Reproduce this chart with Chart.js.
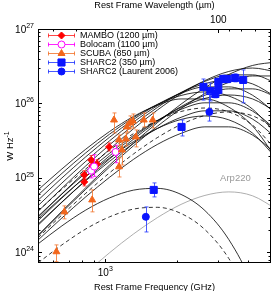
<!DOCTYPE html>
<html lang="en">
<head>
    <meta charset="UTF-8">
    <title>SED fits</title>
    <script src="https://cdn.jsdelivr.net/npm/chart.js"></script>
    <style>
        body { margin: 0; background-color: #fff; }
        canvas { display: block; }
    </style>
</head>
<body>
    <canvas id="sedChart" width="277" height="291"></canvas>
    <script>
        // rest frame frequency grid (GHz) on which the model curves were read
        const freqGrid = [520, 656, 827, 1042, 1313, 1656, 2087, 2632, 3317, 4181, 5272];

        // model SEDs, W/Hz (solid)
        const sed01 = [1.70e24, 3.57e24, 7.38e24, 1.49e25, 2.92e25, 5.50e25, 9.79e25, 1.63e26, 2.45e26, 3.24e26, 3.61e26];
        const sed02 = [2.96e24, 6.12e24, 1.24e25, 2.42e25, 4.56e25, 8.13e25, 1.35e26, 2.03e26, 2.69e26, 2.99e26, 2.65e26];
        const sed03 = [1.65e24, 3.44e24, 7.03e24, 1.40e25, 2.69e25, 4.93e25, 8.53e25, 1.36e26, 1.92e26, 2.34e26, 2.34e26];
        const sed04 = [3.56e24, 7.26e24, 1.45e25, 2.78e25, 5.09e25, 8.81e25, 1.40e26, 1.98e26, 2.42e26, 2.42e26, 1.87e26];
        const sed05 = [4.23e24, 8.53e24, 1.67e25, 3.15e25, 5.61e25, 9.31e25, 1.40e26, 1.85e26, 2.07e26, 1.83e26, 1.21e26];
        const sed06 = [5.01e24, 9.98e24, 1.92e25, 3.52e25, 6.08e25, 9.66e25, 1.37e26, 1.67e26, 1.67e26, 1.29e26, 7.19e25];
        const sed07 = [5.89e24, 1.15e25, 2.17e25, 3.87e25, 6.43e25, 9.68e25, 1.28e26, 1.43e26, 1.26e26, 8.38e25, 3.84e25];
        const sed08 = [6.89e24, 1.32e25, 2.43e25, 4.20e25, 6.67e25, 9.44e25, 1.15e26, 1.15e26, 8.93e25, 4.97e25, 1.82e25];
        const sed09 = [2.31e24, 4.71e24, 9.38e24, 1.80e25, 3.30e25, 5.71e25, 9.08e25, 1.29e26, 1.57e26, 1.57e26, 1.22e26];
        const sed10 = [2.66e24, 5.37e24, 1.05e25, 1.98e25, 3.53e25, 5.86e25, 8.83e25, 1.17e26, 1.30e26, 1.15e26, 7.64e25];
        const sed11 = [3.05e24, 6.08e24, 1.17e25, 2.14e25, 3.71e25, 5.89e25, 8.34e25, 1.02e26, 1.02e26, 7.89e25, 4.39e25];
        const sed12 = [2.39e24, 4.75e24, 9.14e24, 1.67e25, 2.90e25, 4.60e25, 6.52e25, 7.96e25, 7.96e25, 6.17e25, 3.43e25];
        const sed13 = [2.81e24, 5.50e24, 1.04e25, 1.85e25, 3.06e25, 4.61e25, 6.10e25, 6.79e25, 6.03e25, 3.99e25, 1.83e25];
        const sed14 = [1.46e24, 2.90e24, 5.57e24, 1.02e25, 1.77e25, 2.81e25, 3.97e25, 4.85e25, 4.85e25, 3.76e25, 2.09e25];
        const sedLow = [1.30e24, 2.27e24, 3.70e24, 5.39e24, 6.85e24, 7.24e24, 6.00e24, 3.64e24, 1.49e24, 3.70e23, 4.93e22];

        // model SEDs (dashed)
        const sedDash1 = [1.57e24, 3.18e24, 6.22e24, 1.17e25, 2.09e25, 3.47e25, 5.22e25, 6.90e25, 7.69e25, 6.82e25, 4.52e25];
        const sedDash2 = [3.59e24, 7.03e24, 1.32e25, 2.36e25, 3.92e25, 5.90e25, 7.80e25, 8.69e25, 7.71e25, 5.11e25, 2.34e25];
        const sedLowDash = [7.21e23, 1.26e24, 2.06e24, 3.00e24, 3.81e24, 4.03e24, 3.33e24, 2.02e24, 8.30e23, 2.06e23, 2.74e22];

        // Arp220 template (grey)
        const arp220 = [1.33e23, 2.68e23, 5.25e23, 9.89e23, 1.76e24, 2.92e24, 4.41e24, 5.82e24, 6.49e24, 5.75e24, 3.81e24];
        const arp220LabelAt = [3050, 1.0e25];

        // photometry: frequency (GHz), luminosity and error bar ends (W/Hz)
        const mamboFreq = [815, 815, 872, 880, 923, 1037];
        const mamboLum = [1.10e25, 8.84e24, 1.74e25, 1.45e25, 1.54e25, 2.61e25];
        const mamboLo = [9.7e24, 7.8e24, 1.5e25, 1.28e25, 1.36e25, 2.3e25];
        const mamboHi = [1.25e25, 1.0e25, 2.0e25, 1.65e25, 1.75e25, 2.95e25];

        const bolocamFreq = [872, 897, 1105];
        const bolocamLum = [1.25e25, 1.42e25, 2.23e25];
        const bolocamLo = [1.0e25, 1.05e25, 1.6e25];
        const bolocamHi = [1.5e25, 2.05e25, 2.75e25];

        const scubaFreq = [622, 672, 880, 1088, 1142, 1142, 1175, 1221, 1233, 1270, 1307, 1345, 1453, 1585];
        const scubaLum = [1.02e24, 3.50e24, 5.07e24, 6.00e25, 3.24e25, 1.41e25, 2.38e25, 3.34e25, 4.84e25, 5.47e25, 5.82e25, 3.55e25, 6.00e25, 6.00e25];
        const scubaLo = [7.5e23, 2.82e24, 3.50e24, 4.02e25, 2.69e25, 1.03e25, 1.49e25, 2.69e25, 4.14e25, 4.55e25, 4.69e25, 2.61e25, 4.84e25, 4.69e25];
        const scubaHi = [1.26e24, 4.21e24, 6.90e24, 7.46e25, 3.78e25, 1.86e25, 3.04e25, 4.02e25, 5.65e25, 6.80e25, 7.22e25, 4.41e25, 7.46e25, 7.46e25];

        const sharcFreq = [1600, 2097, 2594, 2775, 2912, 2998, 2998, 3145, 3269, 3531, 3815];
        const sharcLum = [6.90e24, 4.84e25, 1.67e26, 1.47e26, 1.34e26, 1.52e26, 1.94e26, 2.13e26, 2.13e26, 2.20e26, 2.07e26];
        const sharcLo = [5.56e24, 3.66e25, 1.11e26, 1.08e26, 1.19e26, 1.34e26, 1.72e26, 1.90e26, 1.90e26, 1.95e26, 1.02e26];
        const sharcHi = [8.57e24, 6.00e25, 2.13e26, 1.88e26, 1.50e26, 1.72e26, 2.20e26, 2.40e26, 2.35e26, 2.50e26, 2.82e26];

        const laurentFreq = [1482, 2748];
        const laurentLum = [3.00e24, 7.69e25];
        const laurentLo = [1.88e24, 5.8e25];
        const laurentHi = [4.08e24, 1.35e26];

        // axis ticks
        const freqMajorTicks = [1000];
        const freqMajorExps = ['3'];
        const freqMinorTicks = [600, 700, 800, 900, 2000, 3000, 4000];
        const waveMajorTicks = [100];
        const waveMajorLabels = ['100'];
        const waveMinorTicks = [500, 400, 300, 200, 90, 80, 70];
        const lumMajorTicks = [1e24, 1e25, 1e26, 1e27];
        const lumMajorExps = ['24', '25', '26', '27'];
        const lumMinorTicks = [8e23, 9e23, 2e24, 3e24, 4e24, 5e24, 6e24, 7e24, 8e24, 9e24,
            2e25, 3e25, 4e25, 5e25, 6e25, 7e25, 8e25, 9e25,
            2e26, 3e26, 4e26, 5e26, 6e26, 7e26, 8e26, 9e26];

        const legendOrder = ['MAMBO (1200 µm)', 'Bolocam (1100 µm)', 'SCUBA (850 µm)', 'SHARC2 (350 µm)', 'SHARC2 (Laurent 2006)'];

        const FONT = '"Liberation Sans", Arial, Helvetica, sans-serif';

        function pairs(xs, ys) {
            return xs.map((x, i) => ({ x: x, y: ys[i] }));
        }

        function curveSet(values, color, dash) {
            return {
                data: pairs(freqGrid, values),
                showLine: true,
                borderColor: color,
                borderWidth: 0.8,
                borderDash: dash,
                pointRadius: 0,
                cubicInterpolationMode: 'monotone'
            };
        }

        function pointSet(label, xs, ys, lo, hi, style, radius, fill, stroke, barColor) {
            return {
                label: label,
                data: pairs(xs, ys),
                errLo: lo,
                errHi: hi,
                errColor: barColor,
                pointStyle: style,
                pointRadius: radius,
                backgroundColor: fill,
                borderColor: stroke,
                borderWidth: 1,
                showLine: false
            };
        }

        const blue = '#0a14ff';
        const orange = 'rgb(242,102,28)';

        const datasets = [
            pointSet('SHARC2 (Laurent 2006)', laurentFreq, laurentLum, laurentLo, laurentHi, 'circle', 3.5, blue, blue, 'rgba(40,60,255,0.85)'),
            pointSet('SHARC2 (350 µm)', sharcFreq, sharcLum, sharcLo, sharcHi, 'rect', 5, blue, blue, 'rgba(40,60,255,0.85)'),
            pointSet('SCUBA (850 µm)', scubaFreq, scubaLum, scubaLo, scubaHi, 'triangle', 4, orange, orange, 'rgba(242,120,50,0.85)'),
            pointSet('Bolocam (1100 µm)', bolocamFreq, bolocamLum, bolocamLo, bolocamHi, 'circle', 3.5, '#fff', '#ff00ff', 'rgba(255,0,255,0.85)'),
            pointSet('MAMBO (1200 µm)', mamboFreq, mamboLum, mamboLo, mamboHi, 'rectRot', 3.5, '#ff0000', '#ff0000', 'rgba(255,40,40,0.85)')
        ];
        [sed01, sed02, sed03, sed04, sed05, sed06, sed07, sed08, sed09, sed10, sed11, sed12, sed13, sed14, sedLow]
            .forEach(v => datasets.push(curveSet(v, '#000', [])));
        [sedDash1, sedDash2, sedLowDash].forEach(v => datasets.push(curveSet(v, '#000', [4, 3])));
        datasets.push(curveSet(arp220, '#999', []));

        function setTicks(major, minor) {
            return scale => {
                const t = major.map(v => ({ value: v, major: true }))
                    .concat(minor.map(v => ({ value: v, major: false })));
                t.sort((a, b) => a.value - b.value);
                scale.ticks = t;
            };
        }

        // error bars drawn just before the markers of each data set
        const errorBars = {
            id: 'errorBars',
            beforeDatasetDraw(chart, args) {
                const ds = chart.data.datasets[args.index];
                if (!ds.errLo) return;
                const { ctx, chartArea: a } = chart;
                const xs = chart.scales.x, ys = chart.scales.y;
                ctx.save();
                ctx.beginPath();
                ctx.rect(a.left, a.top, a.right - a.left, a.bottom - a.top);
                ctx.clip();
                ctx.strokeStyle = ds.errColor;
                ctx.lineWidth = 1;
                ctx.beginPath();
                ds.data.forEach((p, i) => {
                    const px = Math.round(xs.getPixelForValue(p.x)) + 0.5;
                    const top = ys.getPixelForValue(ds.errHi[i]);
                    const bot = ys.getPixelForValue(ds.errLo[i]);
                    ctx.moveTo(px, top); ctx.lineTo(px, bot);
                    ctx.moveTo(px - 2, top); ctx.lineTo(px + 2, top);
                    ctx.moveTo(px - 2, bot); ctx.lineTo(px + 2, bot);
                });
                ctx.stroke();
                ctx.restore();
            }
        };

        // frame, inward ticks, tick labels, y title, legend and Arp220 label
        const frameAndText = {
            id: 'frameAndText',
            afterDraw(chart) {
                const { ctx, chartArea: a, scales } = chart;
                ctx.save();
                ctx.strokeStyle = '#000';
                ctx.lineWidth = 1;
                ctx.strokeRect(a.left + 0.5, a.top + 0.5, a.right - a.left - 1, a.bottom - a.top - 1);

                ctx.beginPath();
                scales.x.ticks.forEach(t => {
                    const px = Math.round(scales.x.getPixelForValue(t.value)) + 0.5;
                    ctx.moveTo(px, a.bottom); ctx.lineTo(px, a.bottom - (t.major ? 4 : 2.5));
                });
                scales.x2.ticks.forEach(t => {
                    const px = Math.round(scales.x2.getPixelForValue(t.value)) + 0.5;
                    ctx.moveTo(px, a.top); ctx.lineTo(px, a.top + (t.major ? 4 : 2.5));
                });
                scales.y.ticks.forEach(t => {
                    const py = Math.round(scales.y.getPixelForValue(t.value)) + 0.5;
                    ctx.moveTo(a.left, py); ctx.lineTo(a.left + (t.major ? 4 : 2.5), py);
                });
                scales.y2.ticks.forEach(t => {
                    const py = Math.round(scales.y2.getPixelForValue(t.value)) + 0.5;
                    ctx.moveTo(a.right, py); ctx.lineTo(a.right - (t.major ? 4 : 2.5), py);
                });
                ctx.stroke();

                ctx.fillStyle = '#000';
                ctx.textAlign = 'left';
                ctx.textBaseline = 'alphabetic';
                // left axis: 10^n
                lumMajorTicks.forEach((v, i) => {
                    const py = scales.y.getPixelForValue(v);
                    ctx.font = '10px ' + FONT;
                    const w1 = ctx.measureText('10').width;
                    ctx.font = '7px ' + FONT;
                    const w2 = ctx.measureText(lumMajorExps[i]).width;
                    const x0 = a.left - 4 - w1 - w2;
                    ctx.font = '10px ' + FONT;
                    ctx.fillText('10', x0, py + 3.5);
                    ctx.font = '7px ' + FONT;
                    ctx.fillText(lumMajorExps[i], x0 + w1, py - 1);
                });
                // bottom axis
                freqMajorTicks.forEach((v, i) => {
                    const px = scales.x.getPixelForValue(v);
                    ctx.font = '10px ' + FONT;
                    const w1 = ctx.measureText('10').width;
                    ctx.font = '7px ' + FONT;
                    const w2 = ctx.measureText(freqMajorExps[i]).width;
                    const x0 = px - (w1 + w2) / 2;
                    ctx.font = '10px ' + FONT;
                    ctx.fillText('10', x0, a.bottom + 13);
                    ctx.font = '7px ' + FONT;
                    ctx.fillText(freqMajorExps[i], x0 + w1, a.bottom + 8);
                });
                // top axis
                ctx.textAlign = 'center';
                ctx.font = '10px ' + FONT;
                waveMajorTicks.forEach((v, i) => {
                    ctx.fillText(waveMajorLabels[i], scales.x2.getPixelForValue(v), a.top - 6);
                });

                // y axis title
                ctx.save();
                ctx.translate(9, (a.top + a.bottom) / 2);
                ctx.rotate(-Math.PI / 2);
                ctx.textAlign = 'left';
                ctx.font = '9.5px ' + FONT;
                const wMain = ctx.measureText('W Hz').width;
                ctx.font = '7px ' + FONT;
                const wSup = ctx.measureText('-1').width;
                ctx.font = '9.5px ' + FONT;
                ctx.fillText('W Hz', -(wMain + wSup) / 2, 3.5);
                ctx.font = '7px ' + FONT;
                ctx.fillText('-1', -(wMain + wSup) / 2 + wMain, -0.5);
                ctx.restore();

                // Arp220 label
                ctx.fillStyle = '#999';
                ctx.textAlign = 'left';
                ctx.textBaseline = 'middle';
                ctx.font = '9.5px ' + FONT;
                ctx.fillText('Arp220', scales.x.getPixelForValue(arp220LabelAt[0]), scales.y.getPixelForValue(arp220LabelAt[1]));

                // legend
                legendOrder.forEach((label, i) => {
                    const ds = chart.data.datasets.find(d => d.label === label);
                    const y = 35 + i * 9;
                    ctx.strokeStyle = ds.errColor;
                    ctx.lineWidth = 1;
                    ctx.beginPath();
                    ctx.moveTo(48, y + 0.5); ctx.lineTo(75, y + 0.5);
                    ctx.moveTo(48.5, y - 1.5); ctx.lineTo(48.5, y + 2.5);
                    ctx.moveTo(74.5, y - 1.5); ctx.lineTo(74.5, y + 2.5);
                    ctx.stroke();
                    ctx.fillStyle = ds.backgroundColor;
                    ctx.strokeStyle = ds.borderColor;
                    Chart.helpers.drawPoint(ctx, {
                        pointStyle: ds.pointStyle, radius: ds.pointRadius, rotation: 0, borderWidth: 1
                    }, 61.5, y + 0.5);
                    ctx.fillStyle = '#000';
                    ctx.textAlign = 'left';
                    ctx.textBaseline = 'middle';
                    ctx.font = '9px ' + FONT;
                    ctx.fillText(label, 80, y + 1);
                });
                ctx.restore();
            }
        };

        const hidden = { grid: { display: false }, border: { display: false }, ticks: { display: false } };

        new Chart(document.getElementById('sedChart'), {
            type: 'scatter',
            data: { datasets: datasets },
            options: {
                responsive: false,
                animation: false,
                events: [],
                layout: { padding: 0 },
                plugins: { legend: { display: false }, tooltip: { enabled: false } },
                scales: {
                    x: Object.assign({
                        type: 'logarithmic', position: 'bottom', min: 520, max: 5000, bounds: 'data',
                        afterBuildTicks: setTicks(freqMajorTicks, freqMinorTicks),
                        afterFit: s => { s.height = 28; },
                        title: {
                            display: true, text: 'Rest Frame Frequency (GHz)', color: '#000',
                            font: { family: FONT, size: 9.2 }, padding: { top: 0, bottom: -2 }
                        }
                    }, hidden),
                    x2: Object.assign({
                        type: 'logarithmic', position: 'top', reverse: true, min: 59.96, max: 576.5, bounds: 'data',
                        afterBuildTicks: setTicks(waveMajorTicks, waveMinorTicks),
                        afterFit: s => { s.height = 29; },
                        title: {
                            display: true, text: 'Rest Frame Wavelength (µm)', color: '#000',
                            font: { family: FONT, size: 9.2 }, padding: { top: 0, bottom: 0 }
                        }
                    }, hidden),
                    y: Object.assign({
                        type: 'logarithmic', position: 'left', min: 7.2e23, max: 1e27, bounds: 'data',
                        afterBuildTicks: setTicks(lumMajorTicks, lumMinorTicks),
                        afterFit: s => { s.width = 38; }
                    }, hidden),
                    y2: Object.assign({
                        type: 'logarithmic', position: 'right', min: 7.2e23, max: 1e27, bounds: 'data',
                        afterBuildTicks: setTicks(lumMajorTicks, lumMinorTicks),
                        afterFit: s => { s.width = 4; }
                    }, hidden)
                }
            },
            plugins: [errorBars, frameAndText]
        });
    </script>
</body>
</html>
